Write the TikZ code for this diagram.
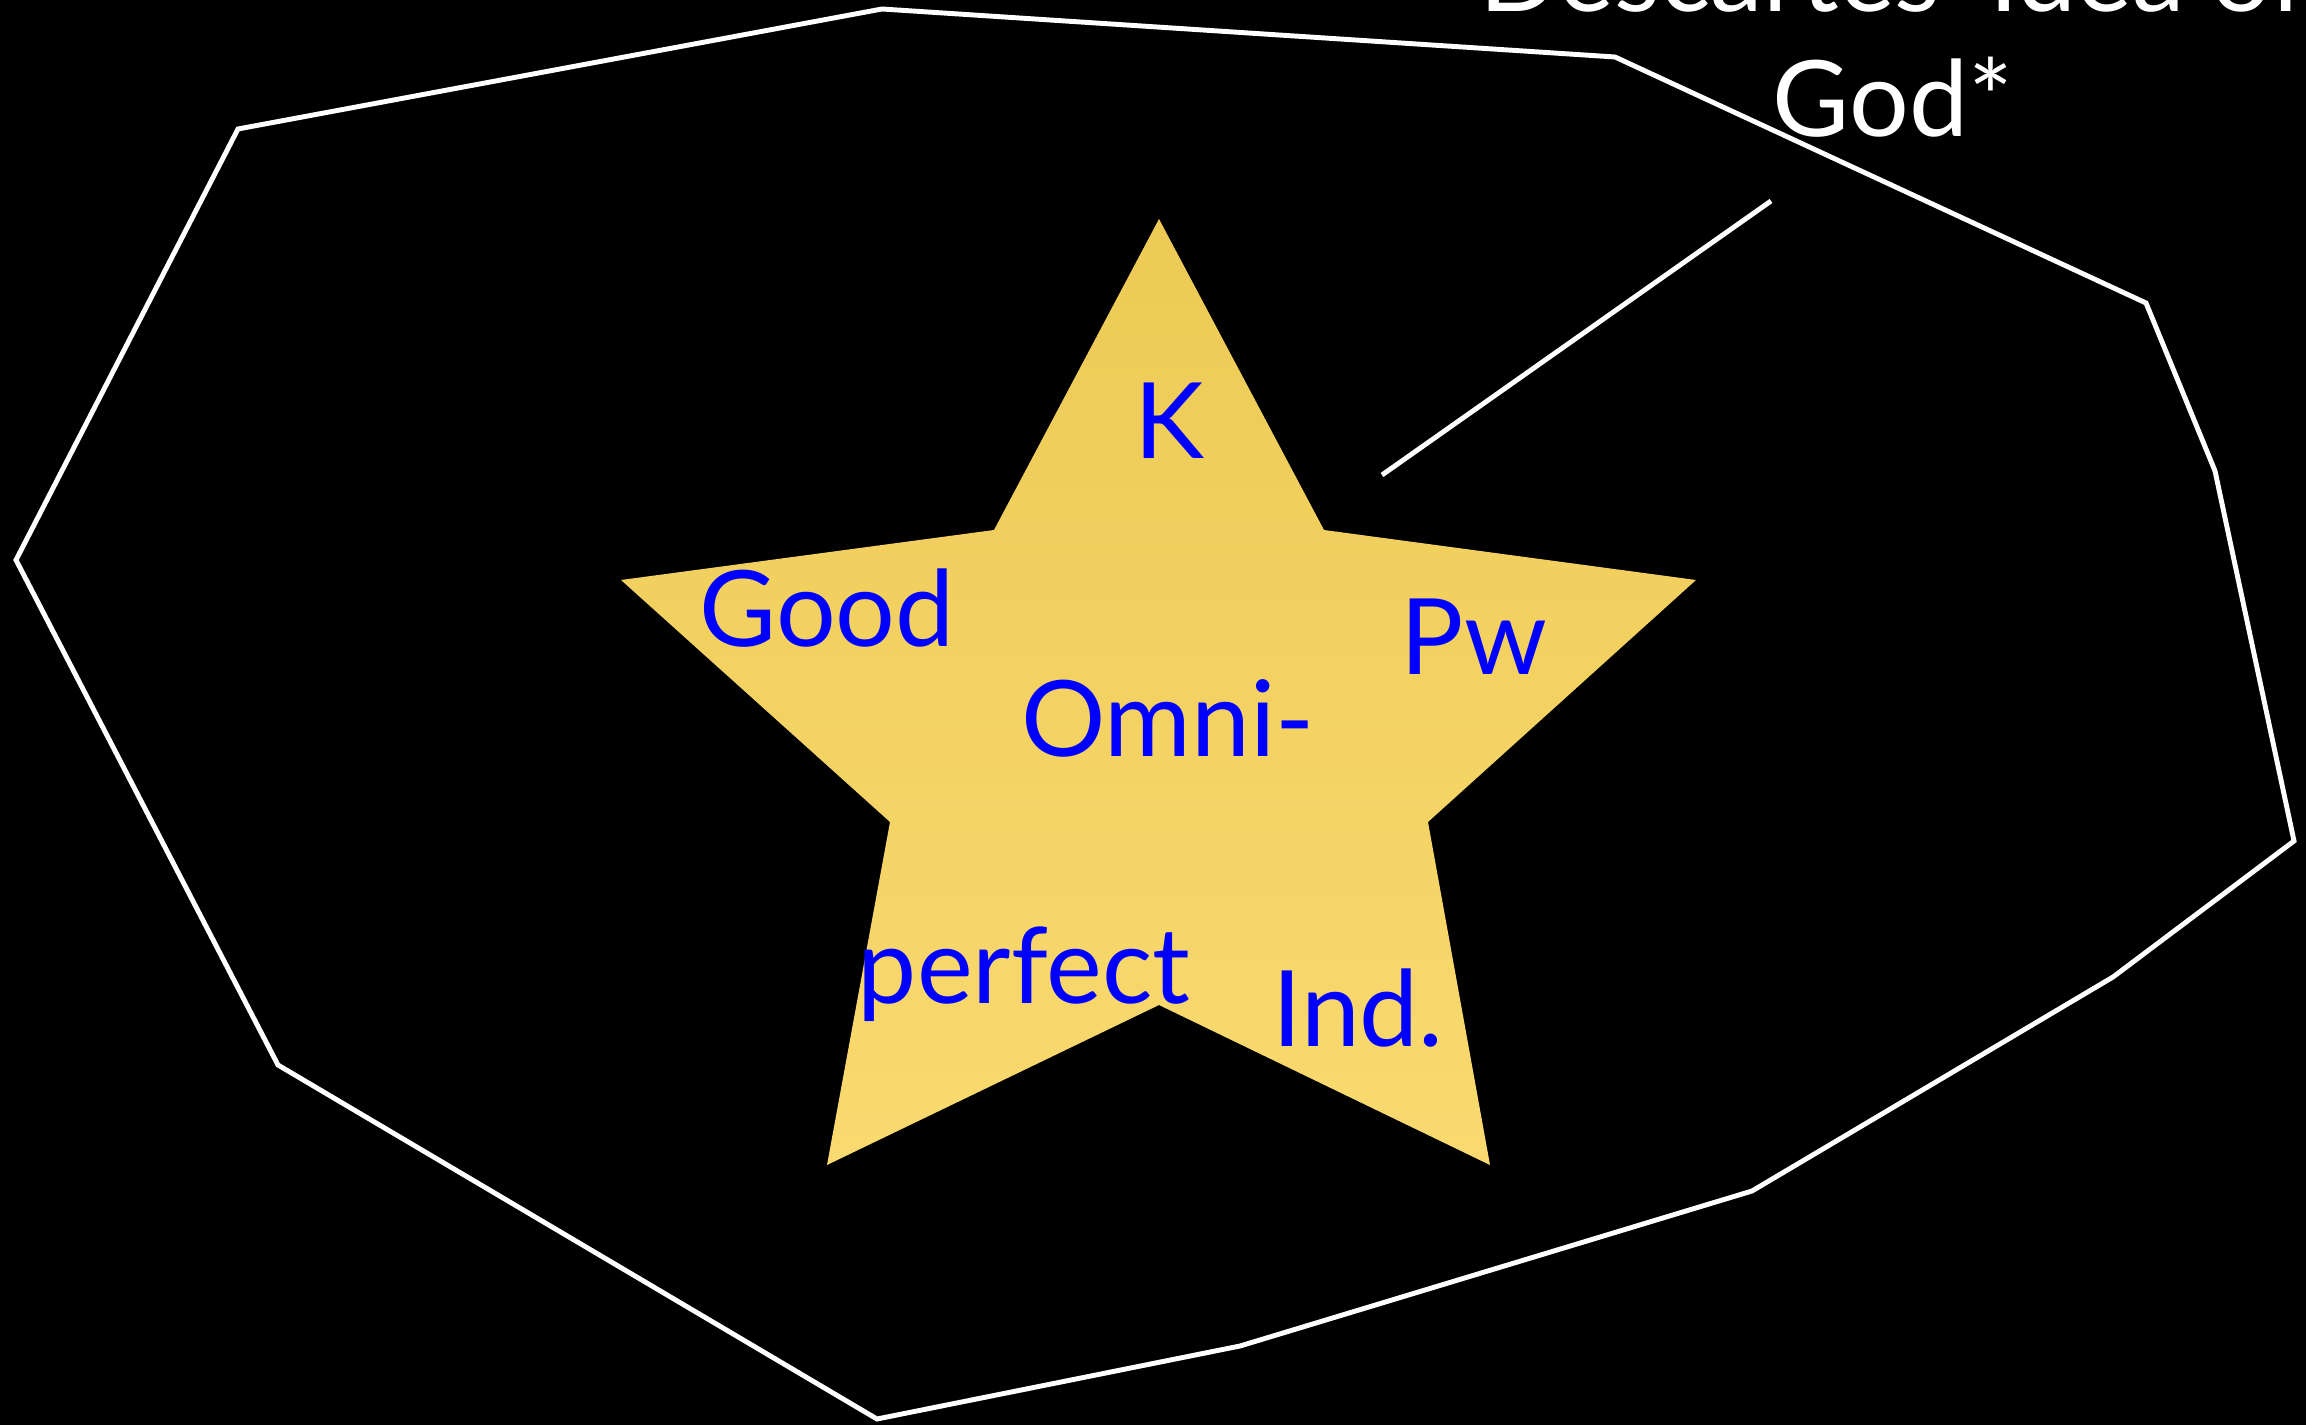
\documentclass[tikz,border=0pt]{standalone}
\usepackage{fontspec}
\setmainfont{Lato}
\usepackage{tikz}
\definecolor{startop}{RGB}{237,202,85}
\definecolor{starbot}{RGB}{249,218,112}

\begin{document}
\begin{tikzpicture}[x=0.01cm, y=-0.01cm,
    outline/.style={draw=white, line width=1.4pt, line join=miter},
    attr/.style={text=blue, anchor=base, inner sep=0pt, font=\fontsize{30}{36}\selectfont},
    title/.style={text=white, anchor=base, inner sep=0pt, font=\fontsize{30}{36}\selectfont}]
  \fill[black] (0,0) rectangle (2306,1425);
  \useasboundingbox (0,0) rectangle (2306,1425);
  \clip (0,0) rectangle (2306,1425);
  % --- the outer region ---
  \draw[outline] (882,9) -- (1615,57) -- (2146,303) -- (2215,471) -- (2294,841)
    -- (2113,977) -- (1752,1191) -- (1240,1346) -- (877,1419) -- (278,1065)
    -- (16,560) -- (238,129) -- cycle;
  % --- the star ---
  \shade[top color=startop, bottom color=starbot]
    (1159,219) -- (1324,530) -- (1696,580) -- (1428,822) -- (1490,1165)
    -- (1159,1005) -- (827,1165) -- (890,822) -- (621,580) -- (994,530) -- cycle;
  \node[attr] (know) at (1169,459) {K};
  \node[attr] (good) at (827,647) {Good};
  \node[attr] (power) at (1474,675) {Pw};
  \node[attr] (omni) at (1168,756) {Omni-};
  \node[attr] (perf) at (1024,1003) {perfect};
  \node[attr] (indep) at (1358,1046) {Ind.};
  % --- the label ---
  \node[title] (idea) at (1893,12) {Descartes' Idea of};
  \node[title] (god) at (1893,137) {God*};
  \coordinate (lineS) at (1382,475);
  \coordinate (lineE) at (1771,201);
  \draw[outline] (lineS) -- (lineE);
\end{tikzpicture}
\end{document}
